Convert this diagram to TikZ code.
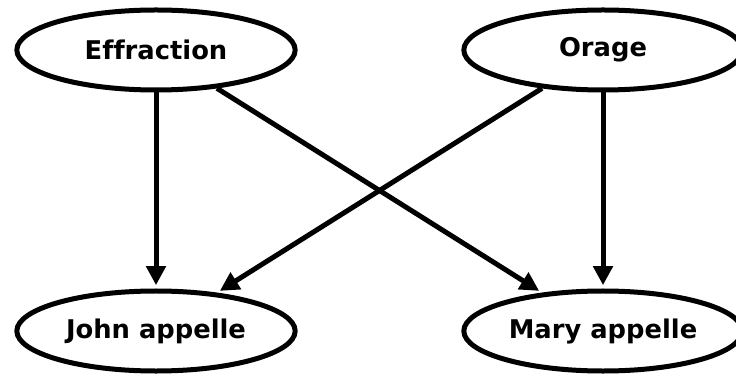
\documentclass[tikz,border=0pt]{standalone}
\usepackage{fontspec}
\setmainfont[Ligatures=NoCommon]{DejaVu Sans}
\usetikzlibrary{arrows.meta,shapes.geometric}
\tikzset{
	var/.style={
			draw, ellipse, line width=0.15cm, inner sep=0pt,
			minimum width=8.35cm, minimum height=2.4cm,
			font=\fontsize{22}{26}\selectfont\bfseries
		},
	dep/.style={
			line width=0.15cm, shorten >=0.1cm,
			-{Triangle[length=0.57cm,width=0.57cm]}
		}
}

\begin{document}
\begin{tikzpicture}[x=0.03cm,y=-0.03cm]
        \useasboundingbox (0,0) rectangle (736,374);
        \node[var] (eff) at (156,50) {Effraction};
        \node[var] (orage) at (603,50) {Orage};
        \node[var] (john) at (156,331) {John appelle};
        \node[var] (mary) at (603,331) {Mary appelle};
        \draw[dep] (eff) -- (john);
        \draw[dep] (eff) -- (mary);
        \draw[dep] (orage) -- (john);
        \draw[dep] (orage) -- (mary);
    \end{tikzpicture}
\end{document}
